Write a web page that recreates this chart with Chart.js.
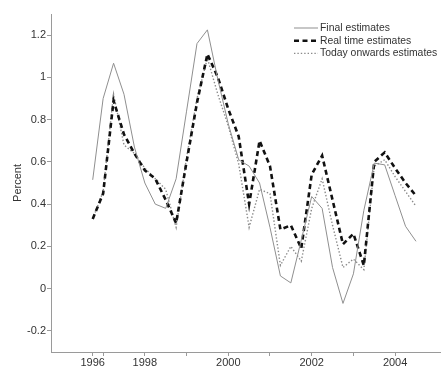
<!DOCTYPE html>
<html>
<head>
<meta charset="utf-8">
<script src="https://cdn.jsdelivr.net/npm/chart.js@4.4.1/dist/chart.umd.min.js"></script>
<style>
  body { margin: 0; background: #fff; }
  canvas { display: block; }
</style>
</head>
<body>
<canvas id="chart" width="441" height="367"></canvas>
<script>
// quarterly observations, 1996Q4 to 2004Q3
const quarters = [1996.75, 1997.0, 1997.25, 1997.5, 1997.75, 1998.0, 1998.25, 1998.5,
  1998.75, 1999.0, 1999.25, 1999.5, 1999.75, 2000.0, 2000.25, 2000.5,
  2000.75, 2001.0, 2001.25, 2001.5, 2001.75, 2002.0, 2002.25, 2002.5,
  2002.75, 2003.0, 2003.25, 2003.5, 2003.75, 2004.0, 2004.25, 2004.5];

const finalEst = [0.515, 0.90, 1.067, 0.92, 0.67, 0.50, 0.40, 0.38,
  0.52, 0.84, 1.16, 1.225, 0.99, 0.78, 0.61, 0.58,
  0.50, 0.29, 0.06, 0.027, 0.23, 0.436, 0.38, 0.10,
  -0.07, 0.07, 0.37, 0.594, 0.586, 0.44, 0.295, 0.224];

const realTime = [0.33, 0.45, 0.89, 0.73, 0.64, 0.56, 0.52, 0.42,
  0.31, 0.60, 0.88, 1.11, 1.00, 0.85, 0.72, 0.40,
  0.70, 0.58, 0.28, 0.30, 0.19, 0.54, 0.63, 0.42,
  0.21, 0.26, 0.11, 0.60, 0.645, 0.57, 0.50, 0.44];

const todayOn = [0.33, 0.46, 0.92, 0.68, 0.64, 0.57, 0.52, 0.47,
  0.29, 0.62, 0.90, 1.09, 0.92, 0.77, 0.59, 0.29,
  0.47, 0.45, 0.11, 0.20, 0.13, 0.38, 0.52, 0.30,
  0.10, 0.14, 0.09, 0.58, 0.61, 0.53, 0.46, 0.39];

const seriesNames = ['Final estimates', 'Real time estimates', 'Today onwards estimates'];
const yTicks = [-0.2, 0, 0.2, 0.4, 0.6, 0.8, 1, 1.2];
const xTicks = [1996.75, 1997, 1998, 1999, 2000, 2001, 2002, 2003, 2004];
const xTickLabels = ['1996', '', '1998', '', '2000', '', '2002', '', '2004'];

function toPoints(vals) {
  return vals.map((v, i) => ({ x: quarters[i], y: v }));
}

const font = { family: 'Liberation Sans, Arial, sans-serif', size: 11 };
const axisColor = '#9a9a9a';

// legend drawn in the upper right, line sample + label
const lineLegend = {
  id: 'lineLegend',
  afterDraw(chart) {
    const ctx = chart.ctx;
    const x0 = 294, x1 = 318, y0 = 28, step = 12.7;
    ctx.save();
    ctx.font = '10.4px ' + font.family;
    ctx.textBaseline = 'middle';
    chart.data.datasets.forEach((ds, i) => {
      const y = y0 + i * step;
      ctx.strokeStyle = ds.borderColor;
      ctx.lineWidth = ds.borderWidth;
      ctx.setLineDash(ds.borderDash || []);
      ctx.beginPath();
      ctx.moveTo(x0, y);
      ctx.lineTo(x1, y);
      ctx.stroke();
      ctx.setLineDash([]);
      ctx.fillStyle = '#333';
      ctx.fillText(ds.label, x1 + 2, y);
    });
    ctx.restore();
  }
};

new Chart(document.getElementById('chart').getContext('2d'), {
  type: 'line',
  data: {
    datasets: [
      {
        label: seriesNames[0],
        data: toPoints(finalEst),
        borderColor: '#8f8f8f',
        borderWidth: 1,
        pointRadius: 0,
        tension: 0
      },
      {
        label: seriesNames[1],
        data: toPoints(realTime),
        borderColor: '#111',
        borderWidth: 2.6,
        borderDash: [5, 3.5],
        pointRadius: 0,
        tension: 0
      },
      {
        label: seriesNames[2],
        data: toPoints(todayOn),
        borderColor: '#8a8a8a',
        borderWidth: 1.4,
        borderDash: [1.4, 2],
        pointRadius: 0,
        tension: 0
      }
    ]
  },
  options: {
    responsive: false,
    animation: false,
    layout: { padding: { top: 14, right: 0, left: 0, bottom: 0 } },
    plugins: {
      legend: { display: false },
      tooltip: { enabled: false }
    },
    scales: {
      x: {
        type: 'linear',
        min: 1995.75,
        max: 2005.1,
        afterBuildTicks: (scale) => { scale.ticks = xTicks.map(v => ({ value: v })); },
        afterFit: (scale) => { scale.height = 15; },
        ticks: {
          font: font,
          color: '#333',
          padding: 0,
          maxRotation: 0,
          autoSkip: false,
          callback: (v, i) => xTickLabels[i]
        },
        grid: { drawOnChartArea: false, tickLength: 4, color: axisColor },
        border: { color: axisColor, width: 1 }
      },
      y: {
        min: -0.3,
        max: 1.3,
        afterBuildTicks: (scale) => { scale.ticks = yTicks.map(v => ({ value: v })); },
        afterFit: (scale) => { scale.width = 51; },
        ticks: {
          font: font,
          color: '#333',
          padding: 1,
          callback: (v) => String(Math.round(v * 10) / 10)
        },
        grid: { drawOnChartArea: false, tickLength: 4, color: axisColor },
        border: { color: axisColor, width: 1 },
        title: {
          display: true,
          text: 'Percent',
          font: font,
          color: '#333',
          padding: { top: 11, bottom: 0 }
        }
      }
    }
  },
  plugins: [lineLegend]
});
</script>
</body>
</html>
